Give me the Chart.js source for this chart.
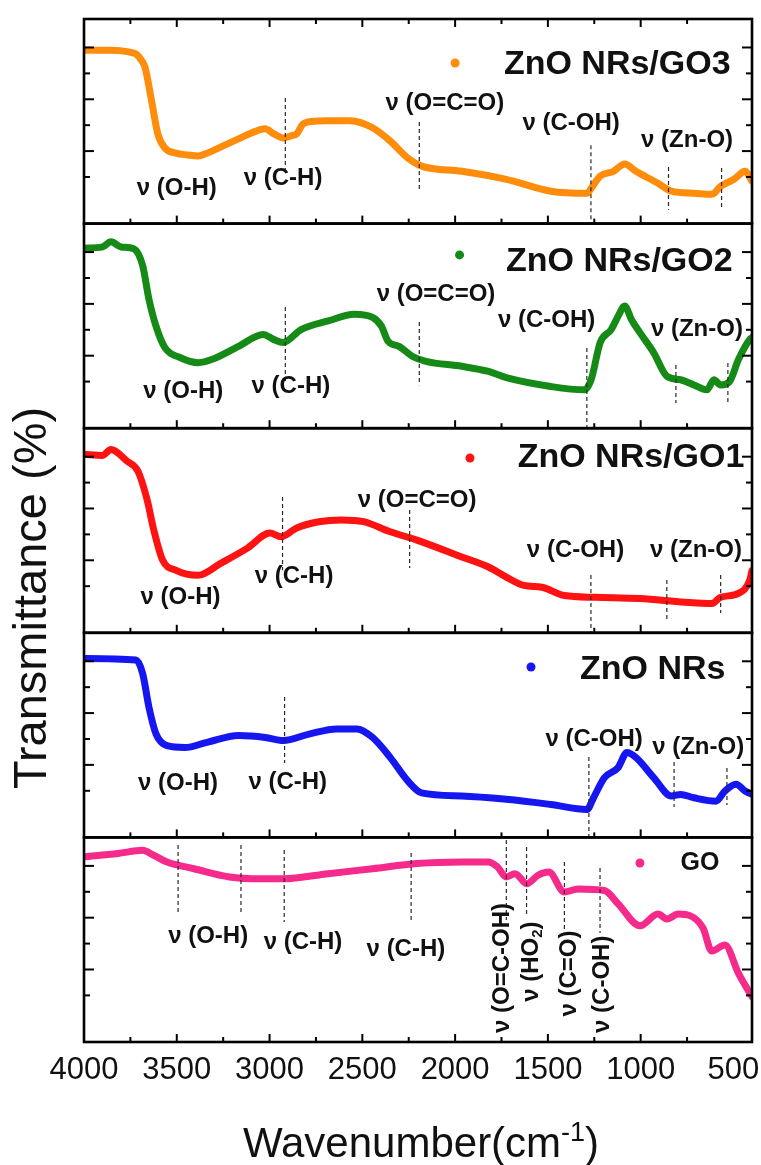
<!DOCTYPE html>
<html>
<head>
<meta charset="utf-8">
<script src="https://cdn.jsdelivr.net/npm/chart.js@4.4.1/dist/chart.umd.min.js"></script>
<style>
  html, body { margin: 0; padding: 0; background: #fff; }
  #wrap { width: 761px; height: 1165px; position: relative; }
</style>
</head>
<body>
<div id="wrap"><canvas id="c" width="761" height="1165"></canvas></div>
<script>
// FTIR spectra: wavenumber (cm-1) and transmittance (arbitrary units, one panel each)
const GO3_WN = [4000,3850,3760,3720,3690,3671,3636,3602,3564,3504,3440,3385,3337,3250,3167,3080,3024,2976,2927,2880,2854,2819,2760,2684,2566,2445,2350,2255,2181,1964,1724,1484,1289,1267,1218,1146,1086,1026,907,834,713,616,569,497,437,400];
const GO3_T  = [58.9,58.9,58.3,57.5,55,52.3,39.5,26.6,21.2,19.2,18.5,18.1,19.2,22,24.7,27.5,28.6,26.6,25.1,26,26.6,30.5,31.5,31.7,31.7,29.0,23.9,17.3,14.2,12.2,9.1,4.5,3.7,5.6,10.3,12.2,15.0,12.2,7.6,4.5,3.7,3.3,6.4,9.1,12.2,8.3];

const GO2_WN = [4000,3900,3855,3800,3732,3684,3650,3612,3564,3480,3385,3312,3167,3035,2976,2927,2830,2684,2542,2445,2397,2362,2302,2229,2157,1964,1820,1724,1484,1303,1267,1218,1159,1121,1086,1050,1004,930,858,785,713,643,605,569,521,473,413,400];
const GO2_T  = [61.5,62,64,62,61.3,54.8,41.8,31.4,23.1,19.2,17.3,18.5,23.6,28.2,26.2,25.1,30.1,33.4,36.0,34.8,31.4,25.6,23.6,19.7,17.8,15.9,13.9,11.5,8.1,6.8,10.7,25.1,30.1,35.3,39.2,34.0,28.9,21.2,12.0,10.7,8.7,6.8,10.7,8.7,10.0,18.5,26.2,27];

const GO1_WN = [4000,3900,3855,3768,3709,3660,3624,3576,3504,3385,3264,3119,2998,2938,2854,2734,2615,2493,2350,2206,1964,1820,1724,1629,1532,1411,1243,1004,761,616,569,473,413,400];
const GO1_T  = [60.9,60.5,62.8,58.3,54.4,43.4,31.7,20.0,16.1,14.2,18.8,24.7,30.5,29.1,32.5,34.9,35.6,34.9,31.0,27.8,21.3,17.4,13.5,10.3,9.6,6.4,5.7,5.2,3.8,3.3,5.7,7.2,12.2,16];

const ZNO_WN = [4000,3720,3684,3650,3612,3553,3456,3337,3167,3024,2927,2782,2638,2529,2445,2350,2255,2181,1964,1724,1484,1289,1254,1195,1121,1074,1026,930,834,785,713,594,546,486,437,400];
const ZNO_T  = [61.1,60.5,55.3,42.3,32.0,27.4,26.7,28.7,31.3,30.6,29.4,32.0,33.9,33.9,30.6,22.9,13.8,9.2,8.0,6.7,4.7,2.8,7.3,15.1,19.0,24.8,22.9,15.1,8.0,8.6,7.3,6.0,9.9,12.5,9.9,8.6];

const GO_WN = [4000,3817,3684,3624,3553,3408,3216,3046,2927,2684,2445,2206,1964,1820,1772,1724,1677,1614,1555,1495,1411,1338,1195,1121,1004,907,858,798,665,617,546,473,400];
const GO_T  = [63.5,64.8,66.0,64.1,61.5,58.9,55.7,55.0,55.0,57.0,58.9,60.9,61.5,61.5,59.6,55.7,57.0,53.1,56.3,57.6,49.9,51.1,50.5,45.3,36.9,41.4,39.5,41.4,36.2,27.1,29.5,18.5,9.5];

const SAMPLE_NAMES = ['ZnO NRs/GO3', 'ZnO NRs/GO2', 'ZnO NRs/GO1', 'ZnO NRs', 'GO'];
const X_TICK_VALUES = [4000, 3500, 3000, 2500, 2000, 1500, 1000, 500];

// ---- presentation ----
const FONT = '"Liberation Sans", Arimo, Arial, sans-serif';
const PANELS = [
  { axis: 'yGO3', wn: GO3_WN, t: GO3_T, color: '#FF8C0A', weight: 5 },
  { axis: 'yGO2', wn: GO2_WN, t: GO2_T, color: '#168A16', weight: 4 },
  { axis: 'yGO1', wn: GO1_WN, t: GO1_T, color: '#FF1212', weight: 3 },
  { axis: 'yZnO', wn: ZNO_WN, t: ZNO_T, color: '#1616F0', weight: 2 },
  { axis: 'yGO',  wn: GO_WN,  t: GO_T,  color: '#F52A8A', weight: 1 }
];

// band assignments: dashed guides [wavenumber, top, bottom] and labels [text, wavenumber, y]
const BANDS = [
  { lines: [[2915,40.5,11.5],[2193,31.2,5.0],[1268,22.3,-8],[850,13.9,-2.7],[564,13.5,-2.0]],
    labels: [['ν (O-H)',3500,5.5],['ν (C-H)',2927,9.4],['ν (O=C=O)',2055,38.6],['ν (C-OH)',1375,30.7],['ν (Zn-O)',750,24.1]],
    legend: { markWn: 2000, markY: 54.0, textWn: 1737, textY: 53.2, size: 34 } },
  { lines: [[2915,38.8,9.8],[2193,33.0,8.6],[1290,23.0,-8],[810,16.4,1.7],[530,17.2,1.7]],
    labels: [['ν (O-H)',3465,6.2],['ν (C-H)',2885,8.1],['ν (O=C=O)',2103,43.7],['ν (C-OH)',1507,33.6],['ν (Zn-O)',697,30.1]],
    legend: { markWn: 1976, markY: 58.9, textWn: 1726, textY: 56.2, size: 34 } },
  { lines: [[2930,44.4,16.2],[2245,39.4,17.0],[1268,14.3,-8],[859,12.4,-3.1],[569,14.3,-0.4]],
    labels: [['ν (O-H)',3480,5.5],['ν (C-H)',2868,13.7],['ν (O=C=O)',2205,43.0],['ν (C-OH)',1351,23.7],['ν (Zn-O)',702,23.7]],
    legend: { markWn: 1920, markY: 59.5, textWn: 1663, textY: 59.5, size: 34 } },
  { lines: [[2919,46.2,20.7],[1279,23.0,-8],[820,21.1,3.7],[535,18.8,4.5]],
    labels: [['ν (O-H)',3493,13.0],['ν (C-H)',2902,13.4],['ν (C-OH)',1251,30.0],['ν (Zn-O)',690,26.9]],
    legend: { markWn: 1591, markY: 57.8, textWn: 1327, textY: 56.6, size: 34 } },
  { lines: [[3493,68.1,42.2],[3154,68.1,42.2],[2921,66.1,38.3],[2237,65.0,39.1],[1724,70.0,39.1],[1615,67.3,40.3],[1411,61.5,35.2],[1219,59.2,34.1]],
    labels: [['ν (O-H)',3331,32.9],['ν (C-H)',2820,30.6],['ν (C-H)',2265,27.9]],
    vlabels: [['ν (O=C-OH)',1747,-4.5],['ν (HO_2)',1590,7.5],['ν (C=O)',1386,1.8],['ν (C-OH)',1209,-4.5]],
    legend: { markWn: 1004, markY: 61.1, textWn: 785, textY: 61.1, size: 25 } }
];

// split "a_2" into normal text and a subscript digit
function parts(str, size) {
  const out = [];
  const re = /_(\d)/g;
  let last = 0, m;
  while ((m = re.exec(str)) !== null) {
    out.push([str.slice(last, m.index), size, 0]);
    out.push([m[1], Math.round(size * 0.62), size * 0.28]);
    last = m.index + m[0].length;
  }
  out.push([str.slice(last), size, 0]);
  return out;
}

function drawParts(ctx, segs, x, y, weight, align) {
  let total = 0;
  segs.forEach(s => { ctx.font = `${weight} ${s[1]}px ${FONT}`; total += ctx.measureText(s[0]).width; });
  let cx = align === 'center' ? x - total / 2 : (align === 'right' ? x - total : x);
  ctx.textAlign = 'left';
  segs.forEach(s => {
    ctx.font = `${weight} ${s[1]}px ${FONT}`;
    ctx.fillText(s[0], cx, y + s[2]);
    cx += ctx.measureText(s[0]).width;
  });
}

function seg(ctx, x1, y1, x2, y2) {
  ctx.beginPath(); ctx.moveTo(x1, y1); ctx.lineTo(x2, y2); ctx.stroke();
}

const panelDecor = {
  id: 'panelDecor',
  afterDatasetsDraw(chart) {
    const ctx = chart.ctx;
    const xs = chart.scales.x;
    const left = chart.chartArea.left, right = chart.chartArea.right;
    ctx.save();
    PANELS.forEach((p, i) => {
      const ys = chart.scales[p.axis];
      const top = ys.top, bottom = ys.bottom;
      const band = BANDS[i];

      // dashed guide lines
      ctx.strokeStyle = '#2a2a2a'; ctx.lineWidth = 1.2; ctx.setLineDash([4, 3]);
      band.lines.forEach(l => {
        const x = xs.getPixelForValue(l[0]);
        seg(ctx, x, ys.getPixelForValue(l[1]), x, ys.getPixelForValue(l[2]));
      });
      ctx.setLineDash([]);

      // band labels
      ctx.fillStyle = '#111'; ctx.textBaseline = 'middle';
      band.labels.forEach(l => {
        drawParts(ctx, parts(l[0], 24), xs.getPixelForValue(l[1]), ys.getPixelForValue(l[2]), 'bold', 'center');
      });
      (band.vlabels || []).forEach(l => {
        ctx.save();
        ctx.translate(xs.getPixelForValue(l[1]), ys.getPixelForValue(l[2]));
        ctx.rotate(-Math.PI / 2);
        drawParts(ctx, parts(l[0], 24), 0, 0, 'bold', 'left');
        ctx.restore();
      });

      // sample legend
      const lg = band.legend;
      ctx.fillStyle = p.color;
      ctx.beginPath();
      ctx.arc(xs.getPixelForValue(lg.markWn), ys.getPixelForValue(lg.markY), 4.5, 0, Math.PI * 2);
      ctx.fill();
      ctx.fillStyle = '#111';
      ctx.font = `bold ${lg.size}px ${FONT}`;
      ctx.textAlign = 'left'; ctx.textBaseline = 'middle';
      ctx.fillText(SAMPLE_NAMES[i], xs.getPixelForValue(lg.textWn), ys.getPixelForValue(lg.textY));

      // inward ticks
      ctx.strokeStyle = '#000'; ctx.lineWidth = 2;
      ys.ticks.forEach(tk => {
        if (tk.value % 10 !== 0 || tk.value < 0) return;
        const y = ys.getPixelForValue(tk.value);
        const len = (tk.value / 10) % 2 === 0 ? 10 : 6;
        seg(ctx, left, y, left + len, y);
        seg(ctx, right, y, right - len, y);
      });
      xs.ticks.forEach(tk => {
        if (tk.value % 250 !== 0) return;
        const x = xs.getPixelForValue(tk.value);
        const len = tk.value % 500 === 0 ? 8 : 5;
        seg(ctx, x, bottom, x, bottom - len);
        if (i === 0) seg(ctx, x, top, x, top + len);
      });

      // panel frame
      ctx.lineWidth = 2.6;
      ctx.strokeRect(left, top, right - left, bottom - top);
    });

    // wavenumber tick labels
    const last = chart.scales[PANELS[PANELS.length - 1].axis];
    ctx.fillStyle = '#111';
    ctx.font = `31px ${FONT}`;
    ctx.textAlign = 'center'; ctx.textBaseline = 'alphabetic';
    X_TICK_VALUES.forEach(v => ctx.fillText(String(v), xs.getPixelForValue(v), last.bottom + 37));

    // axis titles
    drawParts(ctx, [['Wavenumber(cm', 42, 0], ['-1', 27, -16], [')', 42, 0]], 421, last.bottom + 115, 'normal', 'center');
    ctx.save();
    ctx.translate(33, 598);
    ctx.rotate(-Math.PI / 2);
    ctx.font = `47px ${FONT}`;
    ctx.textAlign = 'center'; ctx.textBaseline = 'middle';
    ctx.fillText('Transmittance (%)', 0, 0);
    ctx.restore();
    ctx.restore();
  }
};

const scales = {
  x: {
    type: 'linear', reverse: true, min: 400, max: 4000,
    ticks: { display: false, stepSize: 250 },
    grid: { display: false, drawTicks: false }, border: { display: false }
  }
};
PANELS.forEach(p => {
  scales[p.axis] = {
    type: 'linear', position: 'left', stack: 'panels', stackWeight: 1, weight: p.weight,
    min: -8, max: 71,
    ticks: { display: false, stepSize: 10 },
    grid: { display: false, drawTicks: false }, border: { display: false }
  };
});

new Chart(document.getElementById('c'), {
  type: 'line',
  data: {
    datasets: PANELS.map((p, i) => ({
      label: SAMPLE_NAMES[i],
      data: p.wn.map((w, k) => ({ x: w, y: p.t[k] })),
      yAxisID: p.axis,
      borderColor: p.color,
      borderWidth: 7,
      pointRadius: 0,
      fill: false,
      cubicInterpolationMode: 'monotone',
      borderCapStyle: 'round',
      borderJoinStyle: 'round'
    }))
  },
  options: {
    responsive: false,
    animation: false,
    layout: { padding: { left: 84, right: 9, top: 19, bottom: 123 } },
    plugins: { legend: { display: false }, tooltip: { enabled: false } },
    scales
  },
  plugins: [panelDecor]
});
</script>
</body>
</html>
